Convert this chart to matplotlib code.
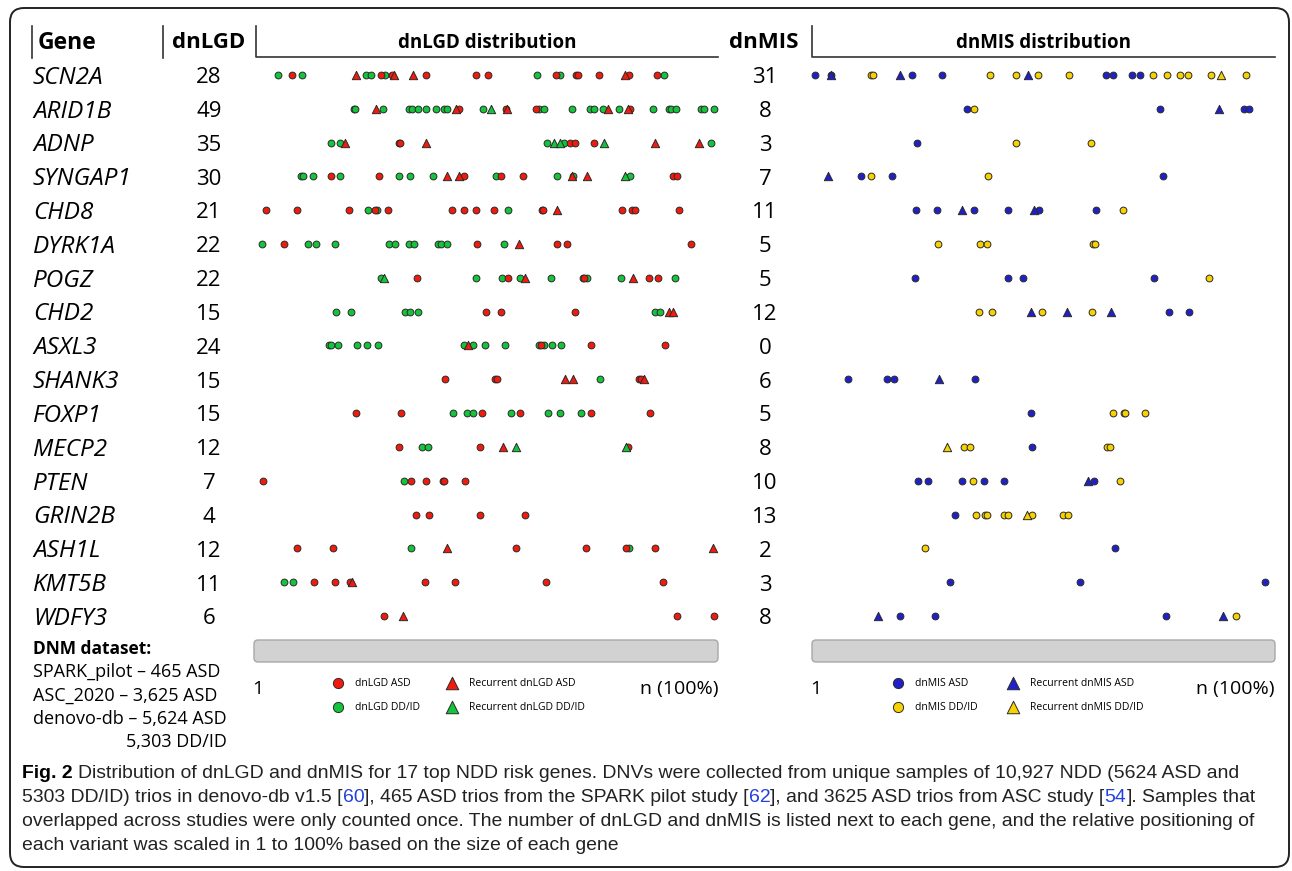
import matplotlib
matplotlib.use('Agg')
import matplotlib.pyplot as plt
from matplotlib.patches import FancyBboxPatch
from matplotlib.transforms import blended_transform_factory, offset_copy

plt.rcParams['font.family'] = ['Open Sans', 'DejaVu Sans']

genes = ['SCN2A', 'ARID1B', 'ADNP', 'SYNGAP1', 'CHD8', 'DYRK1A', 'POGZ', 'CHD2', 'ASXL3',
         'SHANK3', 'FOXP1', 'MECP2', 'PTEN', 'GRIN2B', 'ASH1L', 'KMT5B', 'WDFY3']
lgd_counts = [28, 49, 35, 30, 21, 22, 22, 15, 24, 15, 15, 12, 7, 4, 12, 11, 6]
mis_counts = [31, 8, 3, 7, 11, 5, 5, 12, 0, 6, 5, 8, 10, 13, 2, 3, 8]

# relative position (% of gene length) of each variant, one list per gene
lgd_asd = [
    [8.1, 27.4, 29.7, 37.1, 47.8, 50.4, 65.1, 69.4, 69.8, 74.4, 80.9, 86.8],
    [44.2, 54.3, 60.7, 81.0],
    [31.3, 31.5, 68.1, 69.1, 73.3],
    [16.5, 27.0, 45.2, 53.2, 57.9, 90.4, 91.2],
    [2.5, 9.3, 20.5, 26.0, 28.9, 42.7, 45.3, 47.8, 51.7, 62.0, 62.3, 79.3, 81.4, 82.1, 91.7],
    [6.5, 48.0, 65.2, 67.5, 94.2],
    [35.2, 54.7, 71.2, 85.1, 87.0],
    [50.0, 53.2, 69.2],
    [61.9, 72.7, 88.5],
    [41.2, 51.9, 52.3, 82.9, 83.5],
    [22.0, 31.6, 49.2, 57.3, 72.7, 85.3],
    [31.2, 48.6, 80.6],
    [1.9, 33.8, 37.0, 40.7, 41.0, 45.4],
    [35.0, 37.7, 48.7, 58.4],
    [9.3, 17.0, 56.5, 71.6, 80.1, 86.5],
    [13.0, 17.5, 20.7, 36.9, 43.4, 62.9, 88.2],
    [28.0, 91.2, 99.1],
]
lgd_dd = [
    [5.2, 10.3, 24.1, 25.2, 28.2, 60.9, 65.9, 88.4],
    [21.6, 21.8, 27.9, 33.5, 34.1, 35.3, 37.0, 39.2, 41.0, 41.7, 49.4, 61.4, 62.6, 68.5,
     72.5, 73.3, 75.2, 78.6, 85.9, 89.4, 89.8, 91.0, 96.3, 97.0, 99.1],
    [16.5, 18.5, 63.2, 66.9, 98.5],
    [10.1, 10.6, 12.8, 18.5, 31.3, 33.6, 38.5, 52.2, 65.2, 68.8, 81.0],
    [24.5, 26.6, 54.8],
    [1.7, 11.7, 13.4, 17.5, 29.2, 30.3, 33.5, 34.5, 39.7, 40.2, 41.7, 53.9],
    [27.3, 47.8, 53.5, 57.3, 64.0, 70.8, 71.8, 79.2, 90.7],
    [17.6, 20.8, 32.5, 33.6, 35.3, 86.4, 87.5],
    [16.2, 16.6, 18.0, 22.3, 24.4, 26.7, 45.2, 47.3, 49.8, 54.0, 61.4, 62.6, 64.2, 66.2],
    [74.6],
    [42.8, 45.9, 47.2, 55.4, 63.4, 65.9, 70.5],
    [36.1, 37.6],
    [32.3],
    [],
    [33.9, 80.9],
    [6.5, 8.5],
    [],
]
lgd_rec_asd = [
    [22.0, 30.2, 34.3, 80.0],
    [26.2, 43.5, 54.5, 76.4, 80.5],
    [19.6, 37.1, 86.5, 95.8],
    [41.5, 44.2, 68.5, 71.8],
    [65.2],
    [57.2],
    [58.3, 81.6],
    [89.5, 90.2],
    [46.2],
    [67.1, 68.7, 84.1],
    [],
    [53.6],
    [],
    [],
    [41.7, 98.9],
    [21.1],
    [32.2],
]
lgd_rec_dd = [[], [51.1], [64.7, 65.9, 75.4], [80.0], [], [], [28.1], [], [], [], [],
              [56.5, 80.2], [], [], [], [], []]

mis_asd = [
    [0.7, 4.2, 21.5, 28.1, 63.5, 65.0, 69.1, 70.8],
    [33.4, 75.1, 93.4, 94.3],
    [22.7],
    [10.5, 17.3, 75.8],
    [22.4, 27.0, 35.0, 42.3, 49.0, 61.4],
    [],
    [22.3, 42.3, 45.5, 73.9],
    [77.1, 81.5],
    [],
    [7.8, 16.1, 17.8, 35.2],
    [47.3],
    [47.6],
    [22.9, 25.1, 32.5, 37.2, 41.4, 61.0],
    [30.9],
    [65.5],
    [29.9, 57.9, 97.8],
    [18.9, 26.5, 76.5],
]
mis_dd = [
    [12.7, 13.2, 38.5, 44.1, 48.8, 55.5, 73.7, 76.6, 79.4, 81.2, 86.2, 93.7],
    [34.9],
    [44.1, 60.3],
    [12.7, 38.0],
    [67.1],
    [27.2, 36.3, 37.7, 60.6, 61.2],
    [85.8],
    [36.0, 38.8, 49.6, 60.5],
    [],
    [],
    [65.1, 67.3, 67.6, 72.0],
    [32.9, 34.1, 63.7, 64.3],
    [34.8, 66.5],
    [35.4, 37.3, 37.7, 41.5, 42.4, 47.5, 54.3, 55.3],
    [24.5],
    [],
    [91.5],
]
mis_rec_asd = [
    [4.2, 19.0, 46.7],
    [87.8],
    [],
    [3.5],
    [32.3, 48.0],
    [],
    [],
    [47.3, 55.1, 64.5],
    [],
    [27.5],
    [],
    [],
    [59.7],
    [],
    [],
    [],
    [14.3, 88.8],
]
mis_rec_dd = [[88.3], [], [], [], [], [], [], [], [], [], [], [29.2], [], [46.4], [], [], []]

dataset_lines = ['SPARK_pilot \u2013 465 ASD', 'ASC_2020 \u2013 3,625 ASD', 'denovo-db \u2013 5,624 ASD']

W, H = 1292, 871
fig = plt.figure(figsize=(W / 100, H / 100), dpi=100)
bg = fig.add_axes([0, 0, 1, 1])
bg.set_xlim(0, W)
bg.set_ylim(H, 0)
bg.axis('off')
renderer = fig.canvas.get_renderer()


def panel(x0, x1):
    ax = fig.add_axes([x0 / W, 1 - 633 / H, (x1 - x0) / W, (633 - 58) / H])
    ax.set_xlim(0, 100)
    ax.set_ylim(len(genes) - 0.5, -0.5)
    ax.axis('off')
    ax.patch.set_alpha(0)
    return ax


def flat(rows):
    xs = [v for vals in rows for v in vals]
    ys = [i for i, vals in enumerate(rows) for _ in vals]
    return xs, ys


def draw_panel(ax, groups, col1_xy, col2_xy):
    handles = {}
    for rows, color, marker, size, label in groups:
        xs, ys = flat(rows)
        handles[label] = ax.scatter(xs, ys, s=size, c=color, marker=marker,
                                    edgecolors='#2a2a2a', linewidths=0.7, clip_on=False,
                                    label=label, zorder=3)
    labels = [g[4] for g in groups]
    cols = [([labels[1], labels[0]], col1_xy), ([labels[2], labels[3]], col2_xy)]
    for k, (labs, xy) in enumerate(cols):
        leg = ax.legend([handles[l] for l in labs], labs, loc='upper left', bbox_to_anchor=xy,
                        bbox_transform=bg.transData, frameon=False, fontsize=7.5,
                        markerscale=1.5, scatterpoints=1, handlelength=1.0,
                        handletextpad=1.1, labelspacing=1.2, borderpad=0, borderaxespad=0)
        if k == 0:
            ax.add_artist(leg)


red, green, blue, yellow = '#f21a0c', '#14c43a', '#2020c8', '#f7d200'

ax_lgd = panel(254, 718)
draw_panel(ax_lgd, [
    (lgd_dd, green, 'o', 24, 'dnLGD DD/ID'),
    (lgd_asd, red, 'o', 24, 'dnLGD ASD'),
    (lgd_rec_asd, red, '^', 36, 'Recurrent dnLGD ASD'),
    (lgd_rec_dd, green, '^', 36, 'Recurrent dnLGD DD/ID'),
], (333, 678), (447, 678))

ax_mis = panel(812, 1275)
draw_panel(ax_mis, [
    (mis_dd, yellow, 'o', 24, 'dnMIS DD/ID'),
    (mis_asd, blue, 'o', 24, 'dnMIS ASD'),
    (mis_rec_asd, blue, '^', 36, 'Recurrent dnMIS ASD'),
    (mis_rec_dd, yellow, '^', 36, 'Recurrent dnMIS DD/ID'),
], (893, 678), (1008, 678))

# outer rounded frame
bg.add_patch(FancyBboxPatch((10, 8), 1279, 859, boxstyle='round,pad=0,rounding_size=14',
                            fc='none', ec='#222222', lw=1.4))

# header
hy = 43
bg.text(38, hy, 'Gene', fontsize=16.5, weight='bold', va='center')
bg.text(209, hy, 'dnLGD', fontsize=16, weight='bold', va='center', ha='center')
bg.text(487, hy, 'dnLGD distribution', fontsize=13.5, weight='bold', va='center', ha='center')
bg.text(764, hy, 'dnMIS', fontsize=16, weight='bold', va='center', ha='center')
bg.text(1044, hy, 'dnMIS distribution', fontsize=13.5, weight='bold', va='center', ha='center')
for x in (32, 163):
    bg.plot([x, x], [26, 58], color='#333333', lw=1.2)
for x0, x1 in ((256, 718), (812, 1275)):
    bg.plot([x0, x0, x1], [26, 57, 57], color='#333333', lw=1.2)

# gene names and counts on the same rows as the dots
row_tr = offset_copy(blended_transform_factory(bg.transData, ax_lgd.transData),
                     fig=fig, x=0, y=-2.0, units='points')
for i, g in enumerate(genes):
    bg.text(33, i, g, fontsize=17.5, style='italic', va='center', transform=row_tr)
    bg.text(209, i, str(lgd_counts[i]), fontsize=16, va='center', ha='center', transform=row_tr)
    bg.text(765, i, str(mis_counts[i]), fontsize=16, va='center', ha='center', transform=row_tr)

# scale bars
for x0, x1 in ((254, 718), (812, 1275)):
    bg.add_patch(FancyBboxPatch((x0, 640), x1 - x0, 22, boxstyle='round,pad=0,rounding_size=4',
                                fc='#d2d2d2', ec='#a8a8a8', lw=1.0))
    bg.text(x0 + 4, 689, '1', fontsize=14, va='center', ha='center')
    bg.text(x1, 689, 'n (100%)', fontsize=14, va='center', ha='right')

# dataset note
bg.text(33, 649, 'DNM dataset:', fontsize=12.5, weight='bold', va='center')
for k, line in enumerate(dataset_lines):
    bg.text(33, 672 + 23.3 * k, line, fontsize=13, va='center')
bg.text(227, 742, '5,303 DD/ID', fontsize=13, va='center', ha='right')

# caption
cap_font = ['Liberation Sans Narrow', 'Liberation Sans', 'DejaVu Sans']
cap_lines = [
    [('Fig. 2', 'k', 'bold'),
     ('Distribution of dnLGD and dnMIS for 17 top NDD risk genes. DNVs were collected from '
      'unique samples of 10,927 NDD (5624 ASD and', '#222222', 'normal')],
    [('5303 DD/ID) trios in denovo-db v1.5 [', '#222222', 'normal'), ('60', '#2040e0', 'normal'),
     ('], 465 ASD trios from the SPARK pilot study [', '#222222', 'normal'),
     ('62', '#2040e0', 'normal'),
     ('], and 3625 ASD trios from ASC study [', '#222222', 'normal'), ('54', '#2040e0', 'normal'),
     ('].', '#222222', 'normal'), ('Samples that', '#222222', 'normal')],
    [('overlapped across studies were only counted once. The number of dnLGD and dnMIS is '
      'listed next to each gene, and the relative positioning of', '#222222', 'normal')],
    [('each variant was scaled in 1 to 100% based on the size of each gene', '#222222', 'normal')],
]
probe = bg.text(0, 0, ' '.join(p[0] for p in cap_lines[0]), fontsize=10, family=cap_font)
cap_size = 10 * 1216 / probe.get_window_extent(renderer).width
probe.remove()

for k, parts in enumerate(cap_lines):
    x = 22
    y = 773 + 24 * k
    prev = None
    for txt, color, weight in parts:
        if prev is not None and (prev == 'bold' or txt[0].isalpha()):
            x += cap_size * 0.35
        t = bg.text(x, y, txt, fontsize=cap_size, color=color, weight=weight, va='center',
                    family=cap_font)
        x += t.get_window_extent(renderer).width
        prev = weight if weight == 'bold' else txt[-1]
        if prev not in ('bold',) and not prev.isalpha():
            prev = None if txt[-1] != '.' else 'bold'

fig.savefig('out.png', dpi=100)
